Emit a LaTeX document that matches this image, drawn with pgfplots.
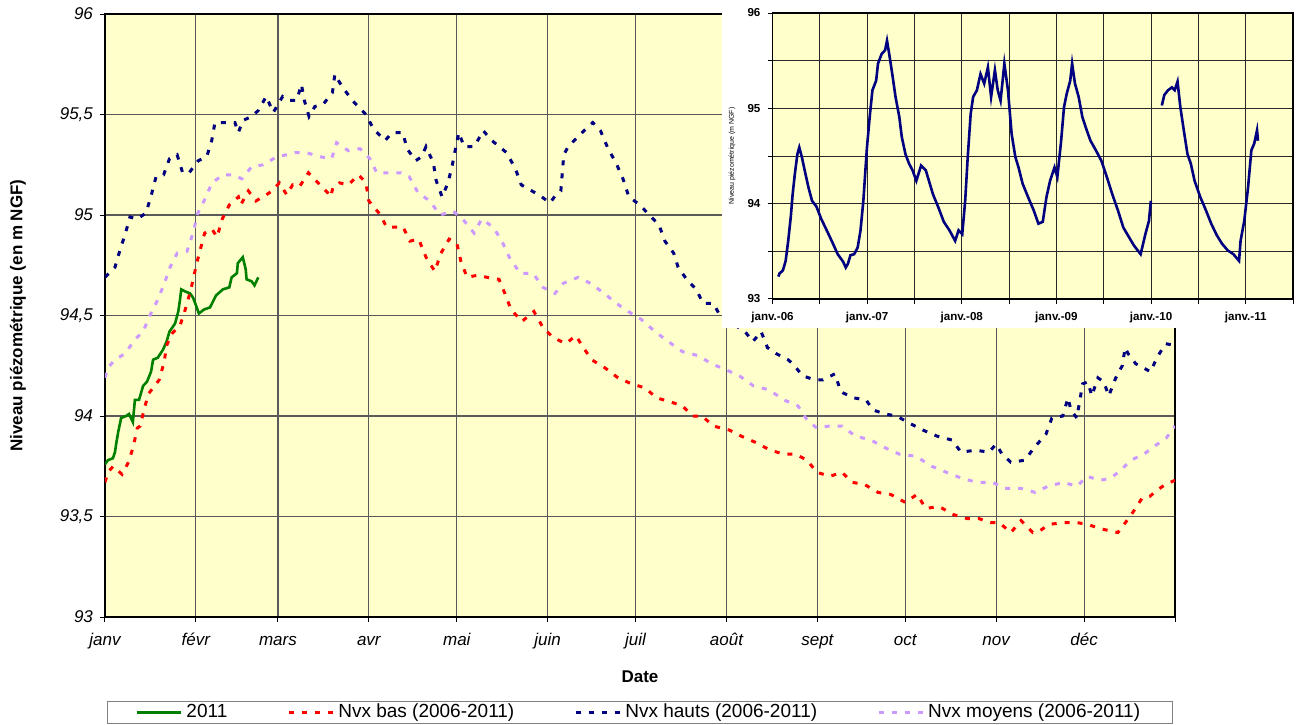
\documentclass[border=0pt]{standalone}
\usepackage{pgfplots}
\pgfplotsset{compat=1.18}
\usepackage{fontspec}
\setmainfont{Liberation Sans}
\definecolor{lav}{RGB}{204,153,255}
\definecolor{navyb}{RGB}{0,0,128}
\definecolor{grn}{RGB}{0,128,0}
\definecolor{redc}{RGB}{255,0,0}
\definecolor{bgy}{RGB}{255,255,204}
\definecolor{gridg}{RGB}{90,90,90}
\begin{document}
\begin{tikzpicture}
\useasboundingbox (0pt,0pt) rectangle (648.5pt,362pt);
\begin{axis}[
  at={(52.5pt,53.5pt)}, anchor=south west,
  scale only axis, width=535pt, height=301.5pt,
  xmin=0, xmax=365, ymin=93, ymax=96,
  xtick={0,31,59,90,120,151,181,212,243,273,304,334,365},
  xticklabels={janv,févr,mars,avr,mai,juin,juil,août,sept,oct,nov,déc,},
  ytick={93,93.5,94,94.5,95,95.5,96},
  yticklabels={93,{93,5},94,{94,5},95,{95,5},96},
  ticklabel style={font=\fontsize{8.5}{10}\selectfont\itshape},
  xticklabel style={text height=6.5pt, text depth=2pt, yshift=-1.5pt},
  grid=major,
  major grid style={draw=gridg, line width=0.6pt},
  axis line style={line width=1pt},
  tick align=outside, xtick pos=left, ytick pos=left,
  major tick length=2.5pt,
  tick style={black, line width=0.5pt},
  axis background/.style={fill=bgy},
  xlabel={Date}, ylabel={Niveau piézométrique (en m NGF)},
  label style={font=\fontsize{8.5}{10}\selectfont\bfseries},
  xlabel style={at={(axis description cs:0.5,-0.0995)}, anchor=center},
  ylabel style={at={(axis description cs:-0.0813,0.5)}, anchor=center},
  legend columns=4,
  legend cell align=left,
  legend image code/.code={\draw[#1] (0pt,0pt) -- (22pt,0pt);},
  legend style={at={(axis description cs:0.5,-0.158)}, anchor=center,
    draw={rgb,255:red,128;green,128;blue,128}, line width=0.6pt,
    font=\fontsize{9.5}{11}\selectfont, inner xsep=14pt, inner ysep=0.5pt,
    nodes={inner ysep=0.8pt},
    /tikz/every even column/.append style={column sep=28pt}},
]
\addplot[grn, line width=1.3pt] coordinates {
(0,93.76) (1,93.78) (2.7,93.79) (3.4,93.82) (3.8,93.86) (4.5,93.92) (5.5,93.99)
(7.2,94.00) (8.2,94.01) (9.5,93.97) (10.2,94.08) (11.6,94.08) (13,94.15) (14.3,94.17)
(15.7,94.22) (16.4,94.28) (18,94.29) (19.8,94.33) (21,94.37) (22,94.42) (23.9,94.46)
(25,94.52) (25.6,94.58) (26,94.63) (27.3,94.62) (29,94.61) (30,94.59) (31.3,94.54)
(32,94.51) (33.8,94.53) (35.8,94.54) (37.9,94.60) (40.2,94.63) (42.4,94.64) (43.2,94.69)
(45,94.71) (45.3,94.76) (47,94.79) (48,94.73) (48.3,94.68) (50,94.67) (51,94.65) (52.3,94.69)
};
\addlegendentry{2011}
\addplot[redc, line width=1.5pt, dash pattern=on 2.5pt off 4pt] coordinates {
(0,93.67) (1,93.72) (2.8,93.75) (5.8,93.71) (8,93.77) (9.7,93.85) (11,93.94) (12,93.95)
(13.3,94.03) (14.8,94.11) (18.5,94.18) (20.2,94.27) (21,94.35) (22.8,94.41) (25.6,94.45)
(27.6,94.54) (29.3,94.63) (31.3,94.76) (32,94.80) (34,94.91) (36.5,94.93) (38.2,94.89)
(40,94.98) (42.4,95.05) (45.5,95.09) (46.3,95.05) (48.9,95.12) (51.5,95.07) (55,95.10)
(57,95.12) (59.5,95.16) (62,95.10) (64,95.15) (66.3,95.14) (69.4,95.21) (72,95.17)
(76,95.11) (77,95.09) (77.8,95.14) (80,95.16) (83,95.15) (86.5,95.20) (89,95.16)
(90,95.07) (94,95.00) (96,94.94) (99,94.94) (101.7,94.94) (104,94.87) (107,94.88)
(109.5,94.79) (112.5,94.72) (114.6,94.81) (117.4,94.88) (120,94.86) (121.4,94.77)
(123.5,94.69) (127,94.70) (130.3,94.69) (134.4,94.68) (136.4,94.61) (138.5,94.53)
(142.2,94.47) (146.3,94.52) (149.4,94.44) (152.9,94.39) (157.2,94.36) (160.6,94.40)
(163.2,94.34) (166,94.28) (170.5,94.24) (175,94.19) (179.6,94.16) (184.2,94.14)
(188.2,94.09) (193,94.07) (197,94.05) (200.3,94.00) (203.7,94.00) (207.5,93.95)
(213,93.93) (217,93.90) (221.7,93.87) (227,93.83) (231.6,93.81) (235.6,93.81)
(239.5,93.78) (242.8,93.72) (247.3,93.70) (251.4,93.72) (254.8,93.67) (259,93.66)
(263.7,93.62) (268,93.61) (273,93.57) (277,93.61) (280,93.54) (284.5,93.55)
(289.3,93.51) (294,93.49) (298,93.49) (302,93.47) (305,93.47) (309,93.42)
(312.5,93.48) (316.5,93.42) (319,93.43) (322,93.46) (326.4,93.47) (331.5,93.47)
(335.3,93.46) (339.4,93.44) (342.4,93.43) (345.5,93.42) (348.6,93.48) (350.6,93.52)
(353.7,93.59) (356.4,93.60) (358.8,93.63) (361.8,93.66) (365,93.68)
};
\addlegendentry{Nvx bas (2006-2011)}
\addplot[navyb, line width=1.5pt, dash pattern=on 2.5pt off 4pt] coordinates {
(0,94.69) (3.4,94.74) (5,94.82) (7,94.91) (8.5,94.99) (11,94.98) (14,95.01) (16,95.11)
(17.4,95.19) (20,95.20) (22,95.28) (24.6,95.30) (26.5,95.21) (28.7,95.21) (31.8,95.27)
(34.7,95.29) (36.4,95.37) (37.5,95.46) (40.3,95.46) (44.3,95.46) (45.5,95.41) (47,95.47)
(50,95.49) (52.3,95.52) (55,95.59) (57.4,95.51) (60.6,95.59) (63,95.57) (65.4,95.57)
(67,95.65) (68,95.57) (69.6,95.49) (71.6,95.54) (74.4,95.55) (77.6,95.61) (78.4,95.70)
(80,95.66) (81.8,95.62) (85,95.56) (89,95.50) (91.5,95.43) (95.5,95.37) (98,95.41)
(101.6,95.41) (103,95.33) (106,95.27) (108,95.29) (109.5,95.34) (112,95.26) (113,95.17)
(115,95.09) (117,95.16) (118.5,95.25) (119.7,95.34) (120.7,95.41) (122.5,95.34)
(126,95.34) (129,95.42) (132,95.37) (137,95.31) (140,95.23) (142,95.15) (145.6,95.12)
(149,95.09) (151.8,95.06) (153.8,95.10) (155.5,95.12) (156,95.21) (156.5,95.30)
(158,95.34) (162,95.40) (166.4,95.46) (169,95.42) (171.6,95.33) (174.3,95.26)
(176.7,95.18) (178.7,95.09) (182.5,95.05) (185,95.01) (189,94.95) (191,94.87)
(194,94.81) (195.5,94.74) (198.4,94.68) (201.7,94.63) (204,94.56) (207.5,94.56)
(209.8,94.50) (218.3,94.42) (221,94.37) (223.8,94.42) (226,94.34) (229,94.31)
(233,94.28) (234.6,94.26) (238,94.20) (242,94.18) (245,94.18) (249,94.21) (251,94.12)
(255.5,94.09) (259.6,94.08) (262,94.03) (266,94.01) (270,94.00) (275,93.96) (279,93.93)
(283.8,93.90) (289,93.88) (292,93.82) (297,93.83) (301.5,93.82) (304,93.86) (306,93.81)
(309,93.77) (313.8,93.78) (316.8,93.84) (321,93.91) (323,93.99) (326.7,94.00)
(328.5,94.09) (329.5,94.03) (331.5,93.99) (333.5,94.16) (335.3,94.17) (336.6,94.10)
(338.7,94.19) (340.7,94.17) (342.4,94.10) (344.8,94.19) (347,94.25) (348,94.34)
(349,94.31) (351.6,94.26) (356.7,94.22) (358.8,94.29) (361.8,94.36) (365,94.35)
};
\addlegendentry{Nvx hauts (2006-2011)}
\addplot[lav, line width=1.5pt, dash pattern=on 2.5pt off 4pt] coordinates {
(0,94.19) (1,94.24) (3.4,94.28) (6.8,94.31) (10.2,94.38) (13,94.42) (15.3,94.50)
(17.7,94.57) (20,94.65) (22.2,94.74) (24.6,94.81) (28,94.82) (30,94.91) (31.7,95.01)
(33.8,95.07) (36.5,95.16) (40.3,95.20) (43.7,95.20) (46.7,95.18) (50,95.24) (54,95.25)
(56.3,95.27) (58.6,95.29) (62,95.30) (64.8,95.31) (68.8,95.31) (73.3,95.29) (77.3,95.28)
(79,95.36) (83,95.32) (87,95.33) (90.4,95.28) (92.7,95.21) (96.6,95.21) (101,95.21)
(103.8,95.19) (106.8,95.11) (110.8,95.07) (114.3,95.00) (118.7,95.02) (122,94.98)
(125.9,94.91) (128.5,94.98) (132.4,94.94) (135.4,94.87) (137.9,94.79) (141.6,94.71)
(146,94.71) (149.4,94.64) (153.5,94.61) (156.3,94.66) (161.4,94.69) (165.6,94.66)
(170.3,94.61) (174.5,94.56) (178.5,94.52) (183,94.48) (187.6,94.42) (192.2,94.37)
(197,94.32) (202.4,94.30) (206.9,94.26) (211.8,94.23) (216.4,94.20) (221.2,94.15)
(226.5,94.13) (231.6,94.08) (236.4,94.05) (239.5,93.98) (242.8,93.94) (247,93.95)
(251.4,93.95) (256,93.90) (261.3,93.88) (266.4,93.84) (271,93.81) (276.6,93.80)
(282,93.75) (287,93.72) (292.3,93.69) (297.4,93.67) (302.8,93.67) (307,93.64)
(312.4,93.64) (317.3,93.62) (321.6,93.65) (327,93.67) (331.5,93.65) (335,93.70)
(339.4,93.68) (343,93.69) (346.5,93.73) (349.9,93.78) (354.4,93.81) (358,93.85)
(362,93.89) (365,93.95)
};
\addlegendentry{Nvx moyens (2006-2011)}
\end{axis}
\fill[white] (360.75pt,198pt) rectangle (648.5pt,362pt);
\begin{axis}[
  at={(386.25pt,212.5pt)}, anchor=south west,
  scale only axis, width=260.25pt, height=143pt,
  xmin=2006, xmax=2011.5, ymin=93, ymax=96,
  xtick={2006,2006.5,2007,2007.5,2008,2008.5,2009,2009.5,2010,2010.5,2011,2011.5},
  xticklabels={janv.-06,,janv.-07,,janv.-08,,janv.-09,,janv.-10,,janv.-11,},
  ytick={93,93.5,94,94.5,95,95.5,96},
  yticklabels={93,,94,,95,,96},
  ticklabel style={font=\fontsize{5.8}{7}\selectfont\bfseries},
  xticklabel style={text height=4.5pt, text depth=1.3pt},
  grid=major,
  major grid style={draw={rgb,255:red,40;green,40;blue,40}, line width=0.5pt},
  axis line style={line width=0.6pt},
  tick align=outside, xtick pos=left, ytick pos=left,
  major tick length=2.5pt,
  tick style={black, line width=0.5pt},
  axis background/.style={fill=bgy},
  ylabel={Niveau piézométrique (m NGF)},
  ylabel style={font=\fontsize{3.5}{4}\selectfont, at={(axis description cs:-0.078,0.5)}, anchor=center},
]
\addplot[navyb, line width=1.3pt] coordinates {
(2006.062,93.235) (2006.075,93.27) (2006.089,93.28) (2006.110,93.30) (2006.139,93.40)
(2006.166,93.61) (2006.193,93.86) (2006.213,94.10) (2006.236,94.31) (2006.263,94.52)
(2006.283,94.59) (2006.31,94.49) (2006.34,94.35) (2006.38,94.17) (2006.418,94.03)
(2006.464,93.97) (2006.515,93.84) (2006.573,93.72) (2006.63,93.60) (2006.689,93.47)
(2006.747,93.39) (2006.774,93.33) (2006.797,93.37) (2006.824,93.46) (2006.863,93.47)
(2006.90,93.54) (2006.93,93.72) (2006.96,94.03) (2006.998,94.59) (2007.03,94.94)
(2007.056,95.19) (2007.095,95.29) (2007.115,95.47) (2007.153,95.57) (2007.19,95.61)
(2007.21,95.71) (2007.238,95.54) (2007.27,95.33) (2007.30,95.12) (2007.34,94.91)
(2007.366,94.70) (2007.405,94.52) (2007.443,94.42) (2007.48,94.35) (2007.52,94.24)
(2007.57,94.40) (2007.62,94.35) (2007.656,94.23) (2007.695,94.10) (2007.753,93.96)
(2007.81,93.81) (2007.87,93.72) (2007.93,93.61) (2007.966,93.72) (2008.005,93.68)
(2008.036,94.03) (2008.063,94.49) (2008.094,94.94) (2008.12,95.12) (2008.16,95.19)
(2008.198,95.36) (2008.237,95.26) (2008.276,95.43) (2008.31,95.12) (2008.35,95.40)
(2008.38,95.19) (2008.41,95.08) (2008.45,95.47) (2008.488,95.19) (2008.527,94.73)
(2008.566,94.49) (2008.60,94.38) (2008.643,94.21) (2008.70,94.07) (2008.76,93.93)
(2008.81,93.79) (2008.856,93.81) (2008.895,94.07) (2008.933,94.24) (2008.98,94.38)
(2009.01,94.28) (2009.05,94.66) (2009.08,95.01) (2009.108,95.15) (2009.146,95.29)
(2009.166,95.47) (2009.196,95.26) (2009.235,95.12) (2009.274,94.91) (2009.31,94.80)
(2009.36,94.66) (2009.417,94.56) (2009.475,94.45) (2009.533,94.28) (2009.59,94.10)
(2009.65,93.93) (2009.707,93.75) (2009.766,93.65) (2009.82,93.56) (2009.89,93.47)
(2009.94,93.68) (2009.978,93.82) (2009.998,94.03)
};
\addplot[navyb, line width=1.3pt] coordinates {
(2010.114,95.03) (2010.14,95.14) (2010.18,95.19) (2010.22,95.22) (2010.25,95.19)
(2010.28,95.28) (2010.31,95.01) (2010.346,94.77) (2010.385,94.52) (2010.42,94.42)
(2010.46,94.24) (2010.52,94.07) (2010.58,93.93) (2010.636,93.79) (2010.694,93.67)
(2010.75,93.58) (2010.81,93.51) (2010.87,93.47) (2010.93,93.40) (2010.946,93.61)
(2010.985,93.82) (2011.025,94.17) (2011.06,94.56) (2011.09,94.63) (2011.12,94.77)
(2011.13,94.66)
};
\end{axis}
\end{tikzpicture}
\end{document}
